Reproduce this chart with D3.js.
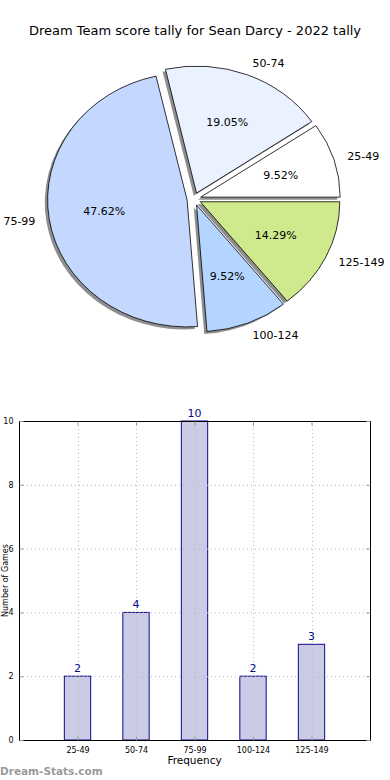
<!DOCTYPE html>
<html><head><meta charset="utf-8">
<script src="https://cdn.jsdelivr.net/npm/d3@7"></script>
<style>html,body{margin:0;padding:0;background:#fff;}svg{display:block;font-family:"DejaVu Sans",sans-serif;}</style>
</head><body>
<svg id="c" width="390" height="780"></svg>
<script>
const title = "Dream Team score tally for Sean Darcy - 2022 tally";
const categories = ["25-49","50-74","75-99","100-124","125-149"];
const counts = [2,4,10,2,3];
const pieColors = ["#ffffff","#eaf1ff","#c4d8ff","#b4d5ff","#cfea8c"];
const yTicks = [0,2,4,6,8,10];
const xLabel = "Frequency";
const yLabel = "Number of Games";
const watermark = "Dream-Stats.com";

const svg = d3.select("#c");
svg.append("text").attr("x",195).attr("y",35).attr("text-anchor","middle")
  .attr("font-size",13).attr("fill","#000").text(title);

// ---------- Pie (matplotlib style, ccw from 3 o'clock, elliptical) ----------
const cx = 194, cy = 199, rx = 139.5, ry = 127, explode = 0.05, shadowOff = 0.02;
const total = d3.sum(counts);
const pie = d3.pie().sort(null).startAngle(0).endAngle(2*Math.PI)(counts);
const slices = pie.map((p,i)=>{
  const t0 = p.startAngle, t1 = p.endAngle;
  return {i, t0, t1, tm:(t0+t1)/2, v:p.value};
});
const arc = d3.arc().innerRadius(0).outerRadius(1);
const g = svg.append("g").attr("transform",`translate(${cx},${cy}) scale(${rx},${ry})`);
function d3arc(s){ return arc({startAngle:Math.PI/2 - s.t1, endAngle:Math.PI/2 - s.t0}); }
slices.forEach(s=>{
  g.append("path").attr("d",d3arc(s))
   .attr("transform",`translate(${explode*Math.cos(s.tm)-shadowOff},${-explode*Math.sin(s.tm)+shadowOff})`)
   .attr("fill","#7a7a7a").attr("fill-opacity",0.85);
});
slices.forEach(s=>{
  g.append("path").attr("d",d3arc(s))
   .attr("transform",`translate(${explode*Math.cos(s.tm)},${-explode*Math.sin(s.tm)})`)
   .attr("fill",pieColors[s.i]).attr("stroke","#000").attr("stroke-width",0.8)
   .attr("vector-effect","non-scaling-stroke").attr("stroke-linejoin","round");
});
slices.forEach(s=>{
  const ox = cx + explode*rx*Math.cos(s.tm), oy = cy - explode*ry*Math.sin(s.tm);
  const lx = ox + 1.1*rx*Math.cos(s.tm), ly = oy - 1.1*ry*Math.sin(s.tm);
  svg.append("text").attr("x",lx).attr("y",ly).attr("dy","0.35em")
    .attr("text-anchor", Math.cos(s.tm)>0 ? "start":"end")
    .attr("font-size",11).attr("fill","#000").text(categories[s.i]);
  const px = ox + 0.6*rx*Math.cos(s.tm), py = oy - 0.6*ry*Math.sin(s.tm);
  svg.append("text").attr("x",px).attr("y",py).attr("dy","0.35em").attr("text-anchor","middle")
    .attr("font-size",11).attr("fill","#000").text((100*s.v/total).toFixed(2)+"%");
});

// ---------- Bar chart ----------
const L=19, R=370, T=421, B=740;
const x = d3.scaleLinear().domain([0,6]).range([L,R]);
const y = d3.scaleLinear().domain([0,10]).range([B,T]);
const bw = 0.45;
const bg = svg.append("g");
bg.selectAll("rect.bar").data(counts).enter().append("rect")
  .attr("x",(d,i)=>x(i+1-bw/2)).attr("width",x(bw)-x(0))
  .attr("y",d=>y(d)).attr("height",d=>y(0)-y(d))
  .attr("fill","#cbcbe6").attr("stroke","#0a0a8c").attr("stroke-width",1);
const gridStyle = sel=>sel.attr("stroke","#b8b8b8").attr("stroke-width",1).attr("stroke-dasharray","1,3");
yTicks.forEach(t=>{
  gridStyle(bg.append("line").attr("x1",L).attr("x2",R).attr("y1",y(t)+0.5).attr("y2",y(t)+0.5));
});
categories.forEach((c,i)=>{
  gridStyle(bg.append("line").attr("x1",Math.round(x(i+1))+0.5).attr("x2",Math.round(x(i+1))+0.5).attr("y1",T).attr("y2",B));
});
bg.append("rect").attr("x",L+0.5).attr("y",T+0.5).attr("width",R-L).attr("height",B-T)
  .attr("fill","none").attr("stroke","#000").attr("stroke-width",1);
const yAxis = d3.axisLeft(y).tickValues(yTicks).tickSize(-4).tickPadding(6).tickFormat(d3.format("d"));
const ya = bg.append("g").attr("transform",`translate(${L+0.5},0)`).call(yAxis);
ya.select(".domain").remove();
ya.selectAll("line").attr("stroke","#999");
ya.selectAll("text").attr("font-size",8).attr("font-family","DejaVu Sans").attr("fill","#000");
const yAxisR = d3.axisRight(y).tickValues(yTicks).tickSize(-4).tickFormat("");
const yr = bg.append("g").attr("transform",`translate(${R+0.5},0)`).call(yAxisR);
yr.select(".domain").remove(); yr.selectAll("line").attr("stroke","#999");
const xAxis = d3.axisBottom(x).tickValues(categories.map((c,i)=>i+1)).tickSize(-4).tickPadding(7)
  .tickFormat((d)=>categories[d-1]);
const xa = bg.append("g").attr("transform",`translate(0,${B+0.5})`).call(xAxis);
xa.select(".domain").remove(); xa.selectAll("line").attr("stroke","#999");
xa.selectAll("text").attr("font-size",8).attr("font-family","DejaVu Sans").attr("fill","#000");
const xAxisT = d3.axisTop(x).tickValues(categories.map((c,i)=>i+1)).tickSize(-4).tickFormat("");
const xt = bg.append("g").attr("transform",`translate(0,${T+0.5})`).call(xAxisT);
xt.select(".domain").remove(); xt.selectAll("line").attr("stroke","#999");
bg.selectAll("text.val").data(counts).enter().append("text")
  .attr("x",(d,i)=>x(i+1)).attr("y",d=>y(d)-4).attr("text-anchor","middle")
  .attr("font-size",11).attr("fill","#0a0a8c").text(d=>d);
svg.append("text").attr("x",x(3)).attr("y",764).attr("text-anchor","middle")
  .attr("font-size",10.5).attr("fill","#000").text(xLabel);
svg.append("text").attr("transform",`translate(8,${(T+B)/2}) rotate(-90)`).attr("text-anchor","middle")
  .attr("font-size",8).attr("fill","#000").text(yLabel);
svg.append("text").attr("x",0).attr("y",775).attr("font-size",10.5).attr("font-weight","bold")
  .attr("fill","#9a9a9a").text(watermark);
</script>
</body></html>
